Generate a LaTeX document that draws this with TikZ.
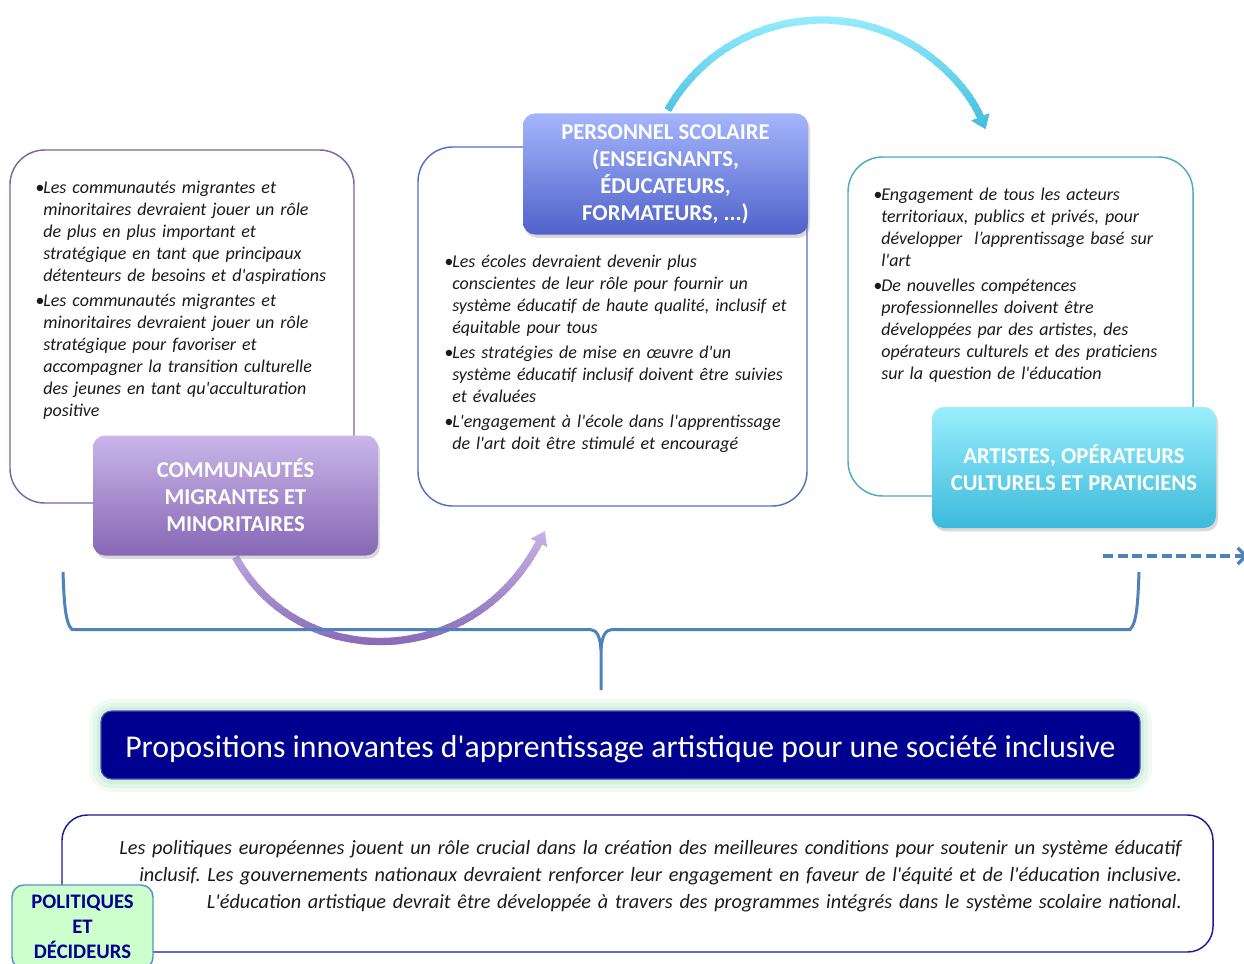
\documentclass[tikz,border=0pt]{standalone}
\usepackage{fontspec}
\setmainfont{Carlito}[Ligatures=TeXOff]
\usetikzlibrary{shadows,arrows.meta,calc}
\definecolor{pOut}{HTML}{8064A2}
\definecolor{bOut}{HTML}{5670C4}
\definecolor{cOut}{HTML}{4BACC6}
\definecolor{pTop}{HTML}{C9B6EA}
\definecolor{pBot}{HTML}{8667B4}
\definecolor{bTop}{HTML}{A5B5FD}
\definecolor{bBot}{HTML}{5062C9}
\definecolor{cTop}{HTML}{9AEEFD}
\definecolor{cBot}{HTML}{3CBADB}
\definecolor{braceC}{HTML}{4F81BD}
\definecolor{navy}{HTML}{000090}
\definecolor{glowG}{HTML}{CFF0DB}
\definecolor{polFill}{HTML}{CCFFCC}
\definecolor{polOut}{HTML}{5B8FC9}
\definecolor{botOut}{HTML}{1A1A9A}
\definecolor{txt}{HTML}{1A1A1A}
\newcommand{\bul}[1]{\noindent\hangindent=6pt\hangafter=1\makebox[6pt][l]{•}#1\par}
\newcommand{\bulx}[1]{\vspace{2.2pt}\noindent\hangindent=6pt\hangafter=1\makebox[6pt][l]{•}#1\par}
\frenchspacing
\begin{document}
\begin{tikzpicture}[x=0.75pt,y=-0.75pt,
  outl/.style={draw, line width=1.1pt, rounded corners=26pt, fill=white},
  lab/.style={rounded corners=9pt, text=white, font=\fontsize{17}{20.25}\selectfont\bfseries,
    align=center, inner sep=0pt, drop shadow={shadow xshift=1.5pt, shadow yshift=-2.5pt, opacity=0.3}},
  btext/.style={anchor=north west, inner sep=0pt, align=left, text=txt,
    font=\fontsize{13.5}{16.5}\selectfont\itshape\frenchspacing},
  brace/.style={draw=braceC, line width=2.25pt},
]
\useasboundingbox (0,0) rectangle (1244,963);

% outline boxes
\node[outl, draw=pOut, minimum width=258pt, minimum height=264.75pt] (box1) at (182,326.5) {};
\node[outl, draw=bOut, minimum width=291.75pt, minimum height=269.25pt] (box2) at (612.5,326.5) {};
\node[outl, draw=cOut, minimum width=258.75pt, minimum height=254.25pt] (box3) at (1020.5,326.5) {};

% bullet texts
\node[btext, text width=250pt] (t1) at (35,181) {%
\bul{Les communautés migrantes et\newline minoritaires devraient jouer un rôle\newline de plus en plus important et\newline stratégique en tant que principaux\newline détenteurs de besoins et d'aspirations}%
\bulx{Les communautés migrantes et\newline minoritaires devraient jouer un rôle\newline stratégique pour favoriser et\newline accompagner la transition culturelle\newline des jeunes en tant qu'acculturation\newline positive}};
\node[btext, text width=285pt] (t2) at (444,255) {%
\bul{Les écoles devraient devenir plus\newline conscientes de leur rôle pour fournir un\newline système éducatif de haute qualité, inclusif et\newline équitable pour tous}%
\bulx{Les stratégies de mise en œuvre d'un\newline système éducatif inclusif doivent être suivies\newline et évaluées}%
\bulx{L'engagement à l'école dans l'apprentissage\newline de l'art doit être stimulé et encouragé}};
\node[btext, text width=250pt] (t3) at (873,188) {%
\bul{Engagement de tous les acteurs\newline territoriaux, publics et privés, pour\newline développer\ \ l’apprentissage basé sur\newline l'art}%
\bulx{De nouvelles compétences\newline professionnelles doivent être\newline développées par des artistes, des\newline opérateurs culturels et des praticiens\newline sur la question de l'éducation}};

% coordinates for arcs
\coordinate (arcA) at (667.8,110.1);
\coordinate (pA) at (235.5,557);
\coordinate (pB) at (545,531);

% top cyan arc with vertical gradient
\foreach \i in {0,...,25}{
  \pgfmathsetmacro{\ya}{10+\i*5}
  \pgfmathsetmacro{\yb}{\ya+5.6}
  \pgfmathtruncatemacro{\mix}{100-\i*4}
  \begin{scope}
    \clip (600,\ya) rectangle (1010,\yb);
    \draw[line width=5.5pt, color=cTop!\mix!cBot, -{Triangle[width=14pt,length=10pt]}]
      (arcA) arc[start angle=209.4, end angle=337.5, radius=177];
  \end{scope}
}

% purple arc with vertical gradient
\foreach \i in {0,...,25}{
  \pgfmathsetmacro{\ya}{524+\i*5}
  \pgfmathsetmacro{\yb}{\ya+5.6}
  \pgfmathtruncatemacro{\mix}{100-\i*4}
  \begin{scope}
    \clip (200,\ya) rectangle (580,\yb);
    \draw[line width=5.5pt, color=pTop!\mix!pBot, -{Triangle[width=13pt,length=10pt]}]
      (pA) .. controls (298,672) and (472,672) .. (pB);
  \end{scope}
}

% labels
\node[lab, top color=pTop, bottom color=pBot, minimum width=213.75pt, minimum height=90pt] (lab1) at (235.5,495.5) {COMMUNAUTÉS\\MIGRANTES ET\\MINORITAIRES};
\node[lab, top color=bTop, bottom color=bBot, minimum width=213.75pt, minimum height=90.75pt] (lab2) at (665.5,174) {PERSONNEL SCOLAIRE\\(ENSEIGNANTS,\\ÉDUCATEURS,\\FORMATEURS, ...)};
\node[lab, top color=cTop, bottom color=cBot, minimum width=213pt, minimum height=90.75pt] (lab3) at (1074,467.5) {ARTISTES, OPÉRATEURS\\CULTURELS ET PRATICIENS};

% dashed arrow
\coordinate (dA) at (1103,556);
\coordinate (dB) at (1248,556);
\draw[draw=braceC, line width=3pt, dash pattern=on 7.5pt off 3.5pt, -{Straight Barb[width=12pt,length=6pt,line width=2.5pt]}] (dA) -- (dB);

% brace
\coordinate (bL) at (63,572);
\coordinate (bR) at (1139,572);
\coordinate (bM) at (601,690);
\coordinate (bC) at (601,650);
\draw[brace] (bL) .. controls (64,600) and (65,623) .. (72,629.5) -- (590,629.5) .. controls (597,630) and (600,636) .. (bC) -- (bM);
\draw[brace] (bC) .. controls (602,636) and (605,630) .. (612,629.5) -- (1130,629.5) .. controls (1137,623) and (1138,600) .. (bR);

% title with glow
\fill[glowG!30, rounded corners=17pt] (89,699) rectangle (1152,792);
\fill[glowG!60, rounded corners=14pt] (93,703) rectangle (1148,788);
\fill[glowG, rounded corners=12pt] (97,707) rectangle (1144,784);
\node[fill=navy, draw=navy!70!white, line width=0.8pt, rounded corners=8pt, minimum width=779.25pt, minimum height=51pt, inner sep=0pt,
  text height=24pt, text depth=4.7pt,
  text=white, font=\fontsize{23.8}{28}\selectfont] (title) at (620.5,745) {Propositions innovantes d'apprentissage artistique pour une société inclusive};

% bottom box
\node[draw=botOut, line width=1.1pt, rounded corners=19pt, fill=white, minimum width=863.25pt, minimum height=102.75pt] (bottom) at (637.5,883.5) {};
\node[anchor=north east, inner sep=0pt, text width=860pt, align=right, text=txt,
  font=\fontsize{15.2}{20.25}\selectfont\itshape\frenchspacing] (bt) at (1182,840) {Les politiques européennes jouent un rôle crucial dans la création des meilleures conditions pour soutenir un système éducatif\\
inclusif. Les gouvernements nationaux devraient renforcer leur engagement en faveur de l'équité et de l'éducation inclusive.\\
L'éducation artistique devrait être développée à travers des programmes intégrés dans le système scolaire national.};

% politiques box
\node[draw=polOut, line width=1.1pt, fill=polFill, rounded corners=9pt, minimum width=105.75pt, minimum height=63pt, inner sep=0pt,
  text=navy, align=center, font=\fontsize{15.5}{18.75}\selectfont\bfseries] (pol) at (82.5,927) {POLITIQUES\\ET\\DÉCIDEURS};
\end{tikzpicture}
\end{document}
